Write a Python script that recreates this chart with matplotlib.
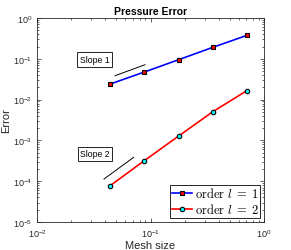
import numpy as np
import matplotlib.pyplot as plt

plt.rcParams['font.family'] = ['Liberation Sans', 'DejaVu Sans']
plt.rcParams['mathtext.fontset'] = 'cm'

# mesh sizes and errors
h = [0.0442, 0.0884, 0.177, 0.354, 0.707]
err_l1 = [0.0241, 0.0475, 0.095, 0.191, 0.375]
err_l2 = [7.8e-5, 3.2e-4, 1.28e-3, 5.05e-3, 0.0166]

# reference slope segments
slope1_x = [0.0487, 0.0895]
slope1_y = [0.0385, 0.0716]
slope2_x = [0.0389, 0.0711]
slope2_y = [1.13e-4, 3.85e-4]

fig = plt.figure(figsize=(2.91, 2.51), dpi=100)
ax = fig.add_axes([37/291, 1-223/251, 227/291, 204/251])

ax.loglog(h, err_l1, '-s', color='blue', lw=1.2, ms=3,
          mfc='red', mec='black', mew=0.8, label=r'$\mathrm{order}\ l\;=\;1$')
ax.loglog(h, err_l2, '-o', color='red', lw=1.2, ms=3.2,
          mfc='cyan', mec='black', mew=0.8, label=r'$\mathrm{order}\ l\;=\;2$')
ax.loglog(slope1_x, slope1_y, 'k-', lw=0.7)
ax.loglog(slope2_x, slope2_y, 'k-', lw=0.7)

box = dict(boxstyle='square,pad=0.3', fc='white', ec='black', lw=0.6)
ax.text(0.0324, 0.096, 'Slope 1', fontsize=6.3, ha='center', va='center', bbox=box)
ax.text(0.0324, 4.66e-4, 'Slope 2', fontsize=6.3, ha='center', va='center', bbox=box)

ax.set_xlim(1e-2, 1e0)
ax.set_ylim(1e-5, 1e0)
ax.set_xticks([1e-2, 1e-1, 1e0])
ax.set_yticks([1e-5, 1e-4, 1e-3, 1e-2, 1e-1, 1e0])
ax.tick_params(which='both', direction='in', top=True, right=True, labelsize=6.5,
               width=0.5, colors='#262626')
ax.tick_params(which='major', length=3)
ax.tick_params(which='minor', length=1.5)
for s in ax.spines.values():
    s.set_linewidth(0.6)
    s.set_color('#262626')

ax.set_title('Pressure Error', fontsize=7.5, fontweight='bold', pad=3)
ax.set_xlabel('Mesh size', fontsize=8, labelpad=1, color='#262626')
ax.set_ylabel('Error', fontsize=8, labelpad=1, color='#262626')

leg = ax.legend(loc='lower right', fontsize=9, handlelength=1.6, handletextpad=0.2,
                borderpad=0.15, labelspacing=0.15, borderaxespad=0.3, fancybox=False,
                framealpha=1, edgecolor='black')
leg.get_frame().set_linewidth(0.6)

fig.savefig('out.png', dpi=100)
